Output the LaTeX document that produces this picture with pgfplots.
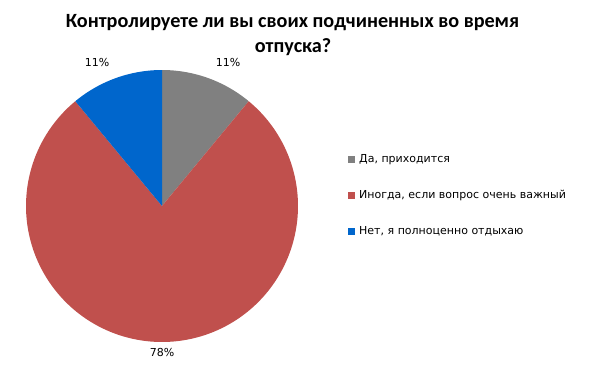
\documentclass[border=0pt]{standalone}
\usepackage{pgfplots}
\pgfplotsset{compat=1.18}
\usepackage{fontspec}
\setmainfont{Carlito}
\newfontfamily\legfont{DejaVu Sans}
\definecolor{cgrey}{RGB}{128,128,128}
\definecolor{cred}{RGB}{192,80,77}
\definecolor{cblue}{RGB}{0,102,204}
% data (percent)
\def\va{11}
\def\vb{78}
\def\vc{11}
\begin{document}
\begin{tikzpicture}
\pgfmathsetmacro{\aA}{90}
\pgfmathsetmacro{\aB}{90-3.6*\va}
\pgfmathsetmacro{\aC}{\aB-3.6*\vb}
\pgfmathsetmacro{\aD}{\aC-3.6*\vc}
\begin{axis}[
  width=600bp, height=370bp, scale only axis,
  xmin=0, xmax=600, ymin=0, ymax=370,
  hide axis, clip=false,
  legend style={at={(axis cs:348,175)}, anchor=west, draw=none, fill=none,
    font=\legfont\fontsize{11bp}{13bp}\selectfont,
    inner sep=0pt, row sep=26bp, column sep=4bp,
    nodes={inner sep=0pt, text height=8bp, text depth=2bp}},
  legend cell align=left,
  legend image code/.code={\fill[#1] (0bp,-3.5bp) rectangle (7bp,3.5bp);},
]
\path (axis cs:0,0) rectangle (axis cs:600,370);
\addplot[fill=cgrey, draw=none, domain=\aA:\aB, samples=60, variable=\t]
  ({162+136*cos(t)},{164+136*sin(t)}) -- (axis cs:162,164) -- cycle;
\addlegendentry{Да, приходится}
\addplot[fill=cred, draw=none, domain=\aB:\aC, samples=200, variable=\t]
  ({162+136*cos(t)},{164+136*sin(t)}) -- (axis cs:162,164) -- cycle;
\addlegendentry{Иногда, если вопрос очень важный}
\addplot[fill=cblue, draw=none, domain=\aC:\aD, samples=60, variable=\t]
  ({162+136*cos(t)},{164+136*sin(t)}) -- (axis cs:162,164) -- cycle;
\addlegendentry{Нет, я полноценно отдыхаю}
\node[font=\legfont\fontsize{11bp}{13bp}\selectfont] at (axis cs:228,308) {\va\%};
\node[font=\legfont\fontsize{11bp}{13bp}\selectfont] at (axis cs:97,308) {\vc\%};
\node[font=\legfont\fontsize{11bp}{13bp}\selectfont] at (axis cs:162,18) {\vb\%};
\node[font=\bfseries\fontsize{20.2bp}{24bp}\selectfont, anchor=base] at (axis cs:292.5,343) {Контролируете ли вы своих подчиненных во время};
\node[font=\bfseries\fontsize{20.2bp}{24bp}\selectfont, anchor=base] at (axis cs:293,318) {отпуска?};
\end{axis}
\end{tikzpicture}
\end{document}
